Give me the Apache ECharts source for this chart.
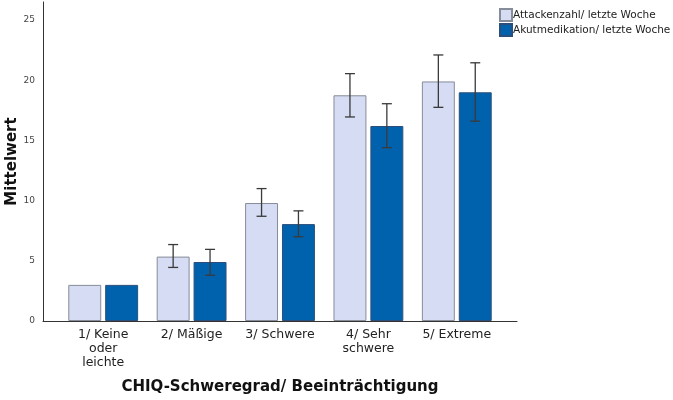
<!DOCTYPE html>
<html style="height: 100%">
<head>
	<meta charset="UTF-8">
	<title>CHIQ</title>
	<script src="https://cdn.jsdelivr.net/npm/echarts@6/dist/echarts.min.js"></script>
</head>
<body style="height: 100%; margin: 0; background: #fff">
	<div id="container" style="width: 673px; height: 400px;"></div>
<script type="text/javascript">
var categories = ['1/ Keine\noder\nleichte', '2/ Mäßige', '3/ Schwere', '4/ Sehr\nschwere', '5/ Extreme'];
var attacken = [3.0, 5.35, 9.8, 18.75, 19.9];
var attackenLow = [3.0, 4.45, 8.7, 16.95, 17.75];
var attackenHigh = [3.0, 6.35, 11.0, 20.55, 22.1];
var akut = [3.0, 4.9, 8.05, 16.2, 19.0];
var akutLow = [3.0, 3.8, 7.0, 14.4, 16.6];
var akutHigh = [3.0, 5.95, 9.15, 18.05, 21.45];
var yTicks = [0, 5, 10, 15, 20, 25];

var font = 'DejaVu Sans';
var catGap = 0.21, barGapRatio = 0.12;

var dom = document.getElementById('container');
var myChart = echarts.init(dom);

// error bars, drawn over the bars of one series (side -1 left, +1 right)
function errorBars(low, high, side) {
	return {
		type: 'custom',
		xAxisIndex: 1, yAxisIndex: 1,
		z: 10,
		silent: true,
		data: low.map(function (v, i) { return [i, v, high[i]]; }),
		renderItem: function (params, api) {
			var lo = api.value(1), hi = api.value(2);
			if (hi - lo < 0.01) return null;
			var band = api.size([1, 0])[0];
			var bw = band * (1 - catGap) / (2 + barGapRatio);
			var off = side * (bw + bw * barGapRatio) / 2;
			var p1 = api.coord([api.value(0), lo]);
			var p2 = api.coord([api.value(0), hi]);
			var x = p1[0] + off, cap = 5;
			var st = { stroke: '#3a3a3a', lineWidth: 1.3 };
			return {
				type: 'group',
				children: [
					{ type: 'line', shape: { x1: x, y1: p1[1], x2: x, y2: p2[1] }, style: st },
					{ type: 'line', shape: { x1: x - cap, y1: p1[1], x2: x + cap, y2: p1[1] }, style: st },
					{ type: 'line', shape: { x1: x - cap, y1: p2[1], x2: x + cap, y2: p2[1] }, style: st }
				]
			};
		}
	};
}

var yBase = { type: 'value', min: 0, max: 26.5, interval: 5 };

var option = {
	animation: false,
	textStyle: { fontFamily: font },
	legend: {
		orient: 'vertical',
		left: 494, top: 3,
		itemWidth: 12, itemHeight: 12, itemGap: 1,
		icon: 'rect',
		textStyle: { fontSize: 10.5, color: '#222', padding: [0, 0, 0, -4] },
		data: ['Attackenzahl/ letzte Woche', 'Akutmedikation/ letzte Woche']
	},
	grid: [
		{ left: 43, right: 156, top: 2, bottom: 79, outerBoundsMode: 'none', containLabel: false },
		{ left: 59, right: 172, top: 2, bottom: 79, outerBoundsMode: 'none', containLabel: false }
	],
	xAxis: [{
		gridIndex: 0, type: 'value', min: 0, max: 1,
		axisLine: { show: true, onZero: false, lineStyle: { color: '#333', width: 1 } },
		axisTick: { show: false }, axisLabel: { show: false }, splitLine: { show: false },
		name: 'CHIQ-Schweregrad/ Beeinträchtigung',
		nameLocation: 'center', nameGap: 59,
		nameTextStyle: { fontSize: 15, fontWeight: 'bold', color: '#111' }
	}, {
		gridIndex: 1, type: 'category', data: categories,
		axisLine: { show: false }, axisTick: { show: false },
		axisLabel: { fontSize: 12.5, color: '#222', lineHeight: 14, margin: 7, interval: 0 }
	}],
	yAxis: [Object.assign({}, yBase, {
		gridIndex: 0,
		axisLine: { show: true, lineStyle: { color: '#333', width: 1 } },
		axisTick: { show: false },
		splitLine: { show: false },
		axisLabel: {
			fontSize: 9, color: '#444', margin: 8, showMaxLabel: false,
			formatter: function (v) { return yTicks.indexOf(v) >= 0 ? String(v) : ''; }
		},
		name: 'Mittelwert', nameLocation: 'center', nameGap: 23,
		nameMoveOverlap: false,
		nameTextStyle: { fontSize: 15, fontWeight: 'bold', color: '#111' }
	}), Object.assign({}, yBase, {
		gridIndex: 1, show: false
	})],
	series: [{
		name: 'Attackenzahl/ letzte Woche',
		type: 'bar', xAxisIndex: 1, yAxisIndex: 1,
		barGap: (barGapRatio * 100) + '%',
		barCategoryGap: (catGap * 100) + '%',
		itemStyle: { color: '#d5dcf3', borderColor: '#878c99', borderWidth: 1 },
		data: attacken
	}, {
		name: 'Akutmedikation/ letzte Woche',
		type: 'bar', xAxisIndex: 1, yAxisIndex: 1,
		itemStyle: { color: '#0062ad', borderColor: '#2b4f7a', borderWidth: 1 },
		data: akut
	},
	errorBars(attackenLow, attackenHigh, -1),
	errorBars(akutLow, akutHigh, 1)
	]
};

myChart.setOption(option, true);
</script>
</body>
</html>
